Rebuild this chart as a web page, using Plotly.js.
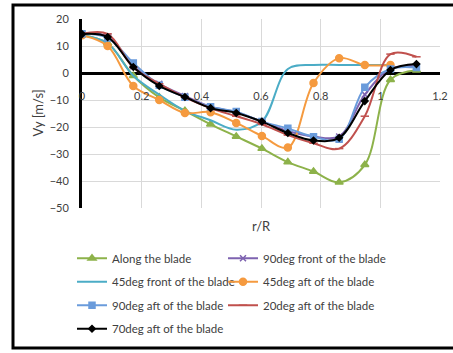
<!DOCTYPE html>
<html>
<head>
<meta charset="utf-8">
<script src="https://cdn.plot.ly/plotly-3.0.1.min.js"></script>
<style>html,body{margin:0;padding:0;background:#fff;}#chart{width:453px;height:353px;}</style>
</head>
<body>
<div id="chart"></div>
<script>
// r/R stations
const rR = [0, 0.086, 0.172, 0.259, 0.345, 0.431, 0.517, 0.603, 0.690, 0.776, 0.862, 0.948, 1.034, 1.121];
// Vy [m/s] per series
const alongBlade   = [14, 11, -1, -9, -14, -19, -23.5, -28, -33, -36.5, -40.5, -34, -2.5, 1];
const front90      = [14.5, 13.5, 2.5, -4, -8.5, -12.5, -14.5, -18, -21.5, -23.5, -23.5, -8, 1.5, 2.5];
const front45      = [14, 11, -1, -8, -14, -17.5, -21, -18, 1.5, 3, 3, 3, 3];
const aft45        = [14, 10, -4.8, -10, -14.8, -14.5, -18.5, -23.3, -27.6, -3.7, 5.5, 3, 3];
const aft90        = [14.5, 13, 3.7, -4.5, -9, -12.5, -14.3, -18, -20.5, -23.6, -24.5, -5.3, 1.5, 2];
const aft20        = [14.5, 14.5, 2, -4, -9, -13, -16, -19, -23, -26, -28, -16, 7, 6];
const aft70        = [14.4, 13.3, 2.2, -4.8, -8.9, -13, -14.8, -18, -22.2, -25, -24, -10.4, 1.1, 3.3];
const seriesNames  = ["Along the blade", "90deg front of the blade", "45deg front of the blade",
                      "45deg aft of the blade", "90deg aft of the blade", "20deg aft of the blade",
                      "70deg aft of the blade"];
const xTickVals = [0, 0.2, 0.4, 0.6, 0.8, 1, 1.2];
const xTickText = ["0", "0.2", "0.4", "0.6", "0.8", "1", "1.2"];
const yTickVals = [20, 10, 0, -10, -20, -30, -40, -50];

function tr(y, name, color, symbol, msize, legend, grp) {
  const t = {
    x: rR.slice(0, y.length), y: y, name: name, type: 'scatter',
    mode: symbol ? 'lines+markers' : 'lines',
    line: {color: color, width: 2, shape: 'spline', smoothing: 1},
    legend: legend, legendgroup: grp
  };
  if (symbol) t.marker = {symbol: symbol, size: msize, color: color, line: {color: color, width: 1.5}};
  return t;
}

const data = [
  tr(alongBlade, seriesNames[0], '#8DB24A', 'triangle-up', 7, 'legend', 'g1'),
  tr(front90,    seriesNames[1], '#7E63B0', 'x-thin', 6, 'legend2', 'g2'),
  tr(front45,    seriesNames[2], '#4BACC6', null, 0, 'legend', 'g3'),
  tr(aft45,      seriesNames[3], '#F59A3F', 'circle', 7, 'legend2', 'g4'),
  tr(aft90,      seriesNames[4], '#6A9BDB', 'square', 6, 'legend', 'g5'),
  tr(aft20,      seriesNames[5], '#C0504D', 'line-ew', 6, 'legend2', 'g6'),
  tr(aft70,      seriesNames[6], '#000000', 'diamond', 5, 'legend', 'g7')
];

const font = {family: 'Lato, "Open Sans", sans-serif', size: 11, color: '#404040'};
const lfont = {family: font.family, size: 11.5, color: '#404040'};

const layout = {
  width: 453, height: 353,
  margin: {l: 82, r: 13, t: 19, b: 145, autoexpand: false},
  paper_bgcolor: '#fff', plot_bgcolor: '#fff',
  font: font,
  showlegend: true,
  xaxis: {
    range: [0, 1.2], tickvals: xTickVals, ticktext: xTickText,
    anchor: 'free', position: 50/70, showline: false, zeroline: false,
    showgrid: true, gridcolor: '#D9D9D9', gridwidth: 1,
    ticks: '', ticklabelstandoff: 15, tickfont: font, fixedrange: true
  },
  yaxis: {
    range: [-50, 20], tickvals: yTickVals,
    showline: true, linecolor: '#000', linewidth: 3,
    zeroline: true, zerolinecolor: '#000', zerolinewidth: 3,
    showgrid: true, gridcolor: '#D9D9D9', gridwidth: 1,
    ticks: '', ticklabelstandoff: 8, tickfont: font
  },
  legend: {x: -10 / 358, y: -0.189, xanchor: 'left', yanchor: 'top', orientation: 'v',
           tracegroupgap: 4.5, font: lfont, bgcolor: 'rgba(0,0,0,0)'},
  legend2: {x: 141 / 358, y: -0.189, xanchor: 'left', yanchor: 'top', orientation: 'v',
            tracegroupgap: 4.5, font: lfont, bgcolor: 'rgba(0,0,0,0)'},
  annotations: [{
    text: 'r/R', xref: 'paper', yref: 'paper', x: 0.5, y: -0.04, yanchor: 'top',
    showarrow: false, font: {family: font.family, size: 13, color: '#404040'}
  }, {
    text: 'Vy [m/s]', xref: 'paper', yref: 'paper', x: (37 - 82) / 358, y: 0.5,
    xanchor: 'center', yanchor: 'middle',
    textangle: -90, showarrow: false, font: {family: font.family, size: 13, color: '#404040'}
  }],
  shapes: [{
    type: 'rect', xref: 'paper', yref: 'paper',
    x0: (13 - 82) / 358, x1: (470 - 82) / 358, y0: (208 - 348) / 189, y1: (208 - 5) / 189,
    line: {color: '#000', width: 3}, fillcolor: 'rgba(0,0,0,0)', layer: 'below'
  }]
};

Plotly.newPlot('chart', data, layout, {staticPlot: true});
</script>
</body>
</html>
